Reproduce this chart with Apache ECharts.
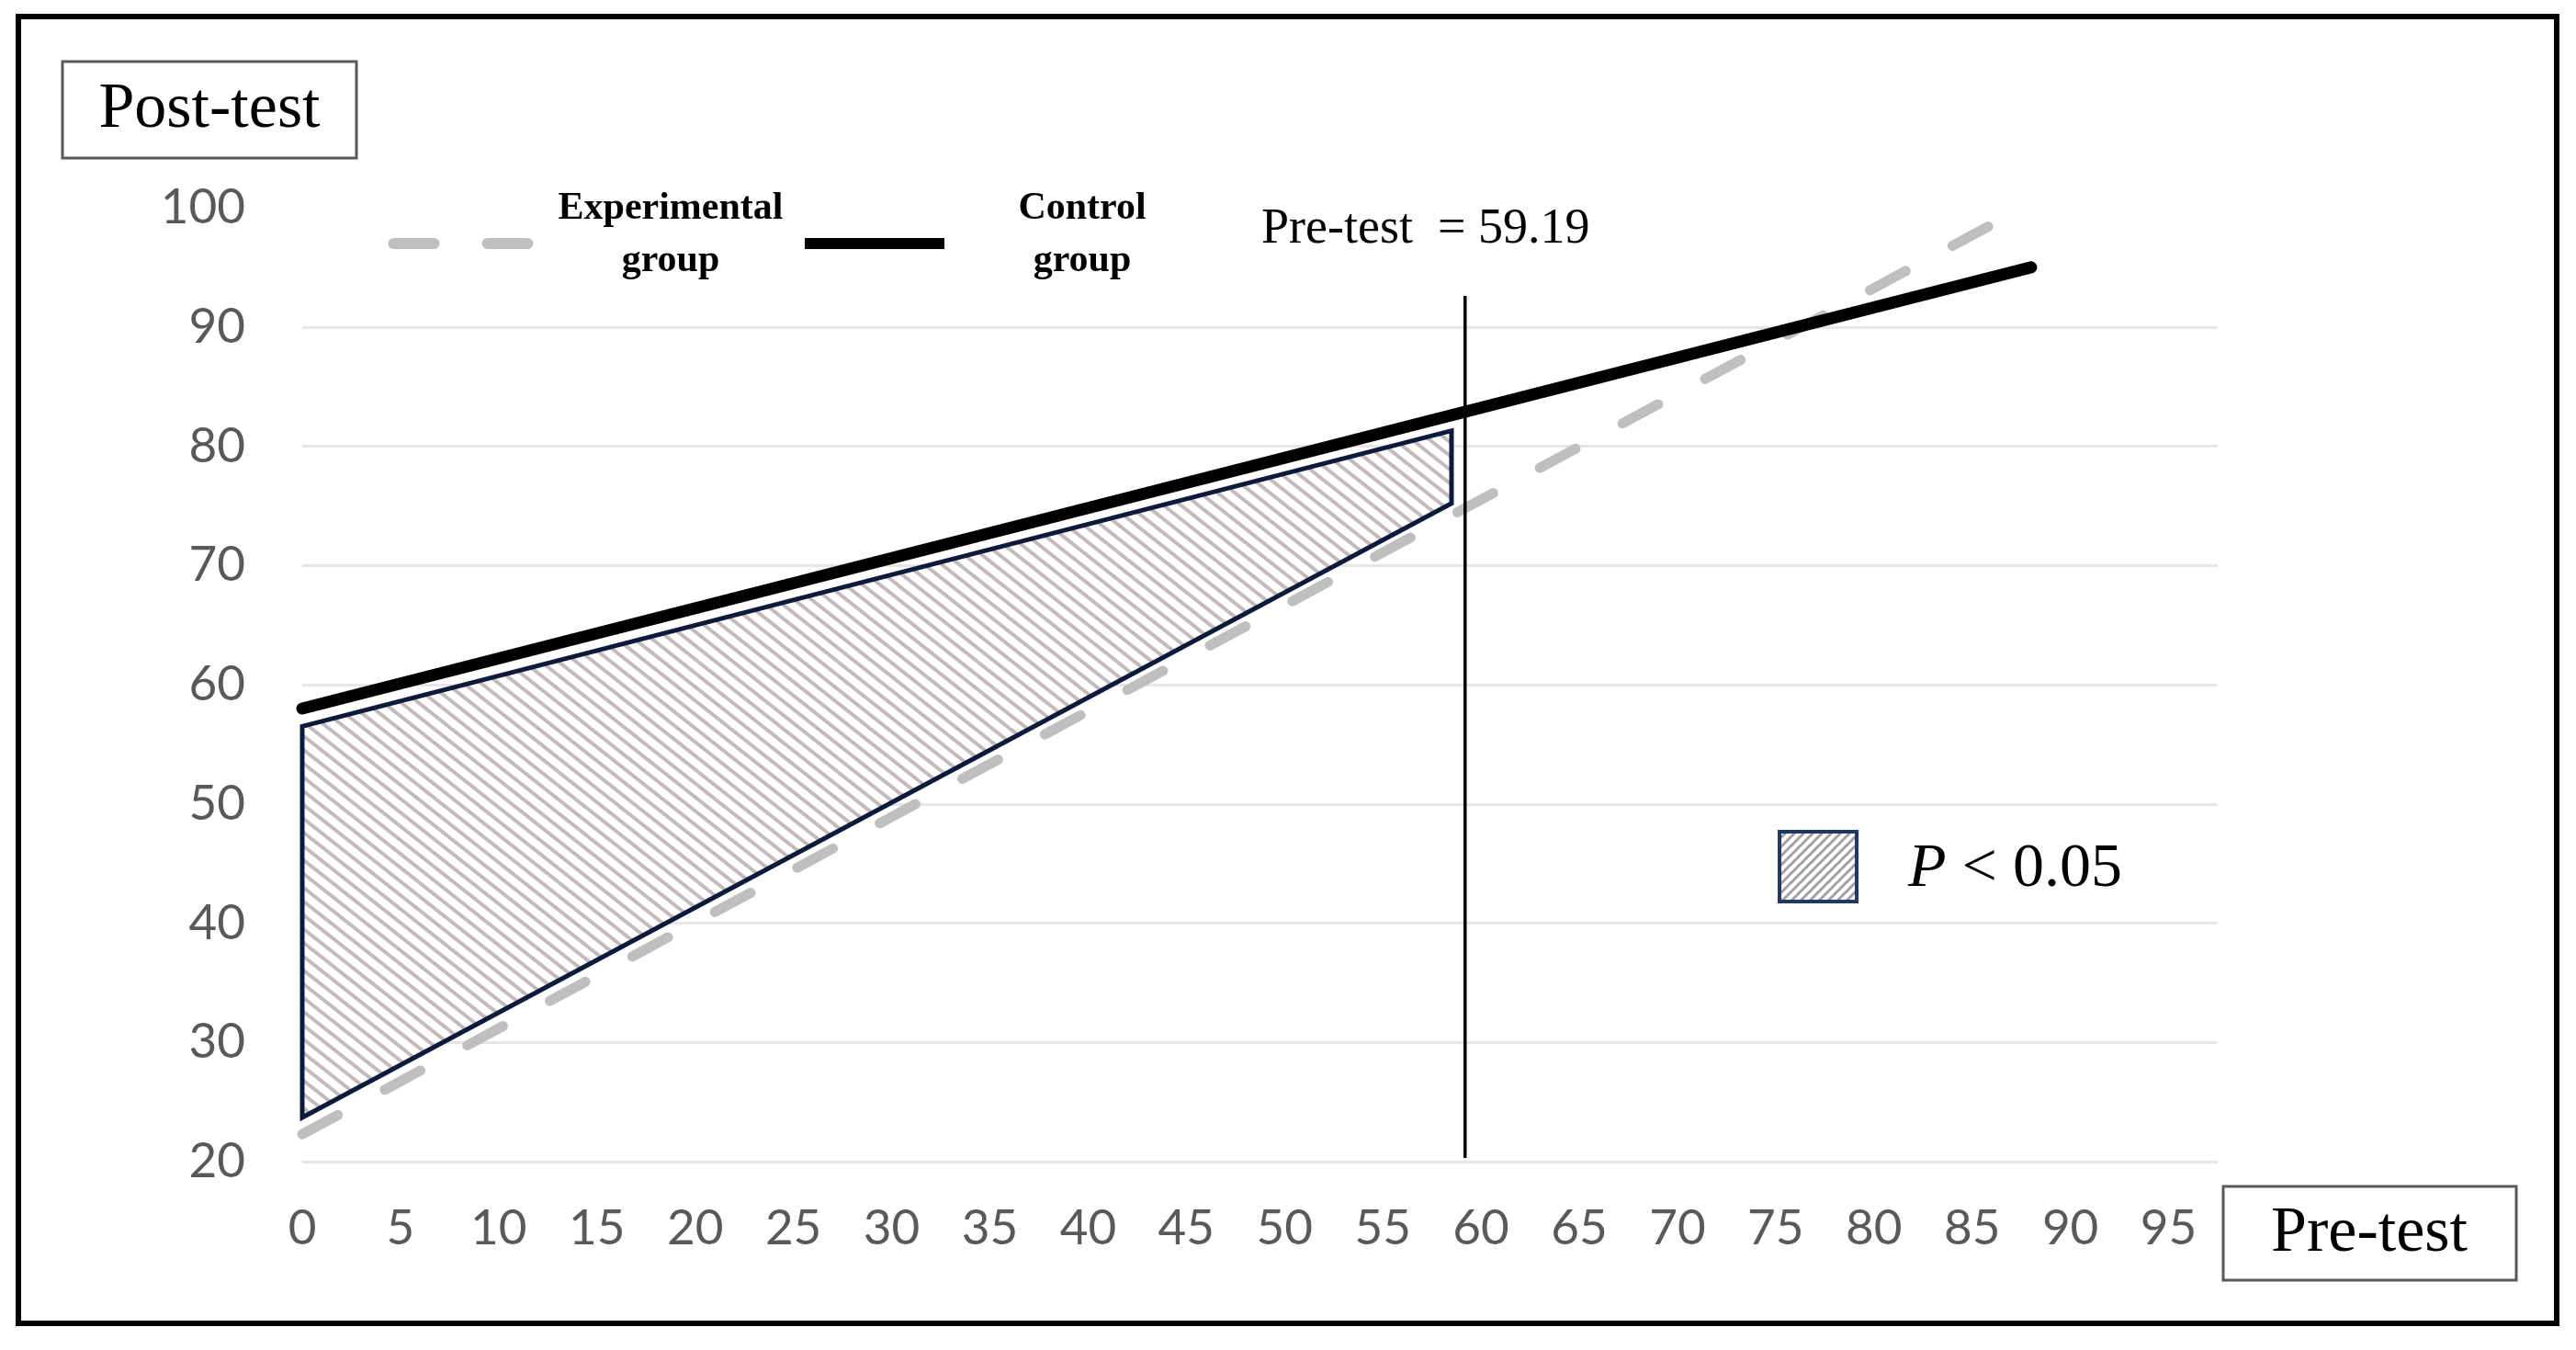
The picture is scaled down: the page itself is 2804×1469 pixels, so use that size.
<!DOCTYPE html>
<html>
<head>
<meta charset="utf-8">
<script src="https://cdn.jsdelivr.net/npm/echarts@6.0.0/dist/echarts.min.js"></script>
<style>
html,body{margin:0;padding:0;background:#fff;}
#chart{width:2804px;height:1469px;}
</style>
</head>
<body>
<div id="chart"></div>
<script>
// ---------- data ----------
const xTickValues = [0,5,10,15,20,25,30,35,40,45,50,55,60,65,70,75,80,85,90,95];
const yTickValues = [20,30,40,50,60,70,80,90,100];
const seriesNames = ['Experimental group', 'Control group'];
const experimentalLine = [[0, 22.3], [87.6, 100]];
const controlLine = [[0, 58.0], [88, 95.0]];
const pretestMean = 59.19;
const pretestLine = [[59.19, 20.3], [59.19, 92.6]];
const significantRegion = [[0, 56.5], [58.5, 81.3], [58.5, 75.2], [0, 23.7]];
const significanceLabel = 'P < 0.05';

// ---------- hatch patterns ----------
function makeHatch(w, h, color, lw, down) {
  const c = document.createElement('canvas');
  c.width = w; c.height = h;
  const g = c.getContext('2d');
  g.fillStyle = '#ffffff';
  g.fillRect(0, 0, w, h);
  g.strokeStyle = color;
  g.lineWidth = lw;
  g.lineCap = 'butt';
  for (let dx = -2 * w; dx <= 2 * w; dx += w) {
    g.beginPath();
    if (down) {
      g.moveTo(dx - w, -h);
      g.lineTo(dx + 2 * w, 2 * h);
    } else {
      g.moveTo(dx - w, 2 * h);
      g.lineTo(dx + 2 * w, -h);
    }
    g.stroke();
  }
  return c;
}
const regionHatch = makeHatch(19, 15, '#c4baba', 4, true);
const legendHatch = makeHatch(10, 10, '#a0a0a0', 3, false);

const serif = '"Liberation Serif", "Times New Roman", serif';
const tickFont = 'Lato';

const chart = echarts.init(document.getElementById('chart'), null, {renderer: 'canvas'});

const option = {
  backgroundColor: '#ffffff',
  animation: false,
  grid: {left: 329, right: 390, top: 226, bottom: 205, containLabel: false, outerBoundsMode: 'none'},
  xAxis: {
    type: 'value', min: 0, max: 97.5, interval: 5,
    axisLine: {show: false}, axisTick: {show: false}, splitLine: {show: false},
    axisLabel: {
      color: '#595959', fontFamily: tickFont, fontSize: 53, margin: 46,
      showMinLabel: true, showMaxLabel: true, hideOverlap: false,
      formatter: v => xTickValues.includes(v) ? String(v) : ''
    }
  },
  yAxis: {
    type: 'value', min: 20, max: 100, interval: 10,
    axisLine: {show: false}, axisTick: {show: false},
    splitLine: {show: true, showMinLine: true, showMaxLine: false, lineStyle: {color: '#e6e6e6', width: 3}},
    axisLabel: {
      color: '#595959', fontFamily: tickFont, fontSize: 53, margin: 62,
      formatter: v => yTickValues.includes(v) ? String(v) : ''
    }
  },
  series: [
    {
      name: seriesNames[0], type: 'line', data: experimentalLine, z: 2,
      symbol: 'none', silent: true,
      lineStyle: {color: '#bfbfbf', width: 11, type: [44, 58], cap: 'round'}
    },
    {
      name: significanceLabel, type: 'custom', data: significantRegion, z: 3, silent: true,
      encode: {x: 0, y: 1},
      renderItem: function (params, api) {
        if (params.dataIndex !== 0) return null;
        const pts = significantRegion.map(p => api.coord(p));
        return {
          type: 'polygon',
          shape: {points: pts},
          style: {
            fill: {image: regionHatch, repeat: 'repeat'},
            stroke: '#0c1a3c', lineWidth: 5, lineJoin: 'miter'
          }
        };
      }
    },
    {
      name: seriesNames[1], type: 'line', data: controlLine, z: 4,
      symbol: 'none', silent: true,
      lineStyle: {color: '#000000', width: 13, cap: 'round'}
    },
    {
      name: 'Pre-test mean', type: 'line', data: pretestLine, z: 5,
      symbol: 'none', silent: true,
      lineStyle: {color: '#000000', width: 3.5}
    }
  ],
  graphic: [
    {type: 'rect', z: 100, shape: {x: 20, y: 18, width: 2763, height: 1422},
      style: {fill: 'none', stroke: '#000', lineWidth: 6}},
    {type: 'rect', z: 100, shape: {x: 68, y: 67, width: 320, height: 105},
      style: {fill: '#fff', stroke: '#595959', lineWidth: 3}},
    {type: 'text', z: 101, x: 228, y: 120,
      style: {text: 'Post-test', font: '70px ' + serif, fill: '#000', align: 'center', verticalAlign: 'middle'}},
    {type: 'rect', z: 100, shape: {x: 2420, y: 1291, width: 319, height: 102},
      style: {fill: '#fff', stroke: '#595959', lineWidth: 3}},
    {type: 'text', z: 101, x: 2579, y: 1343,
      style: {text: 'Pre-test', font: '70px ' + serif, fill: '#000', align: 'center', verticalAlign: 'middle'}},
    {type: 'line', z: 100, shape: {x1: 428.5, y1: 265, x2: 574.5, y2: 265},
      style: {stroke: '#bfbfbf', lineWidth: 12, lineDash: [44, 58], lineCap: 'round'}},
    {type: 'text', z: 101, x: 730, y: 256,
      style: {text: 'Experimental\ngroup', font: 'bold 42px ' + serif, lineHeight: 57, fill: '#000', align: 'center', verticalAlign: 'middle'}},
    {type: 'line', z: 100, shape: {x1: 876, y1: 265, x2: 1028, y2: 265},
      style: {stroke: '#000', lineWidth: 12}},
    {type: 'text', z: 101, x: 1178, y: 256,
      style: {text: 'Control\ngroup', font: 'bold 42px ' + serif, lineHeight: 57, fill: '#000', align: 'center', verticalAlign: 'middle'}},
    {type: 'text', z: 101, x: 1373, y: 250,
      style: {text: 'Pre-test  = ' + pretestMean.toFixed(2), font: '54px ' + serif, fill: '#000', align: 'left', verticalAlign: 'middle'}},
    {type: 'rect', z: 100, shape: {x: 1937, y: 905, width: 84, height: 76},
      style: {fill: {image: legendHatch, repeat: 'repeat'}, stroke: '#1f3864', lineWidth: 4}},
    {type: 'text', z: 101, x: 2077, y: 946,
      style: {text: '{i|P} < 0.05', fontSize: 68, fontFamily: serif, fill: '#000', align: 'left', verticalAlign: 'middle',
        rich: {i: {fontStyle: 'italic', fontSize: 68, fontFamily: serif, fill: '#000'}}}}
  ]
};
chart.setOption(option);
</script>
</body>
</html>
